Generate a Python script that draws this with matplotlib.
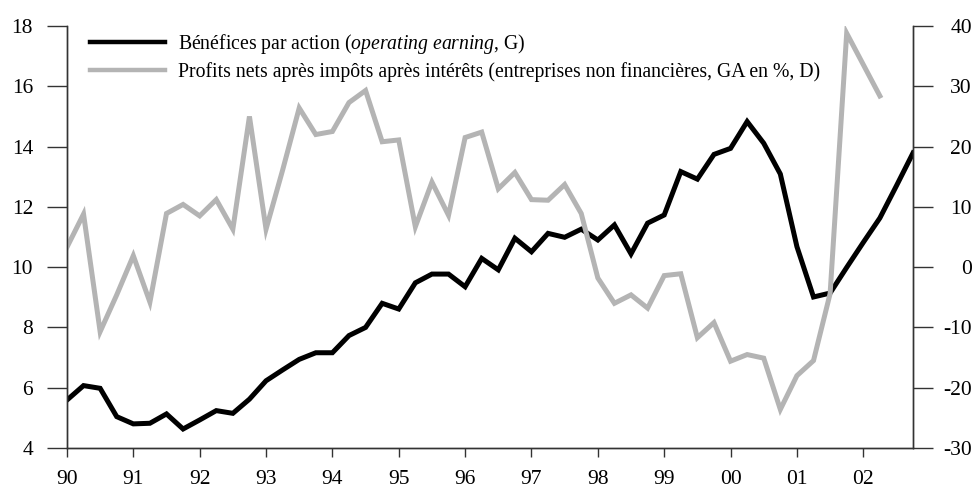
import numpy as np
import matplotlib
matplotlib.use("Agg")
import matplotlib.pyplot as plt

# quarterly data, 1990Q1 onwards
eps = [5.59, 6.07, 5.98, 5.04,
       4.80, 4.82, 5.13, 4.63,
       4.93, 5.24, 5.15, 5.62,
       6.23, 6.59, 6.94, 7.16,
       7.16, 7.73, 8.00, 8.80,
       8.61, 9.48, 9.77, 9.77,
       9.35, 10.29, 9.91, 10.96,
       10.51, 11.12, 10.99, 11.26,
       10.90, 11.40, 10.44, 11.46,
       11.73, 13.17, 12.92, 13.74,
       13.94, 14.83, 14.11, 13.09,
       10.68, 9.01, 9.14, 9.99,
       10.82, 11.63, 12.70, 13.79]

profits = [3.3, 8.8, -10.7, -4.6,
           1.9, -5.8, 8.9, 10.4,
           8.5, 11.2, 6.3, 25.0,
           6.3, 16.1, 26.4, 22.0,
           22.5, 27.3, 29.3, 20.8,
           21.1, 6.7, 14.1, 8.6,
           21.5, 22.4, 13.0, 15.7,
           11.2, 11.1, 13.7, 8.9,
           -1.8, -6.0, -4.6, -6.8,
           -1.4, -1.1, -11.7, -9.2,
           -15.6, -14.5, -15.1, -23.6,
           -18.0, -15.5, -4.4, 38.8,
           33.6, 28.4]

years = np.arange(1990, 2003)
year_labels = ["90", "91", "92", "93", "94", "95", "96", "97", "98", "99", "00", "01", "02"]
left_ticks = [4, 6, 8, 10, 12, 14, 16, 18]
right_ticks = [-30, -20, -10, 0, 10, 20, 30, 40]

label_eps = r"Bénéfices par action ($\it{operating\ earning}$, G)"
label_profits = "Profits nets après impôts après intérêts (entreprises non financières, GA en %, D)"

t_eps = 1990 + np.arange(len(eps)) / 4
t_profits = 1990 + np.arange(len(profits)) / 4

plt.rcParams['font.family'] = ['Liberation Serif', 'DejaVu Serif']
plt.rcParams['mathtext.fontset'] = 'custom'
plt.rcParams['mathtext.it'] = 'Liberation Serif:italic'
plt.rcParams['mathtext.rm'] = 'Liberation Serif'

fig = plt.figure(figsize=(9.76, 4.87), dpi=100)
ax = fig.add_axes([0.0686, 0.0801, 0.8669, 0.8665])
ax2 = ax.twinx()

gray = '#b4b4b4'
l1, = ax.plot(t_eps, eps, color='black', lw=3.6, solid_joinstyle='miter')
l2, = ax2.plot(t_profits, profits, color=gray, lw=3.6, solid_joinstyle='miter')

ax.set_xlim(1990, 2002.75)
ax.set_ylim(4, 18)
ax2.set_ylim(-30, 40)

ax.set_xticks(years)
ax.set_xticklabels(year_labels)
ax.set_yticks(left_ticks)
ax2.set_yticks(right_ticks)
ax2.set_yticklabels([str(v) for v in right_ticks], ha='right')

spine_col = '#333333'
for a in (ax, ax2):
    a.spines['top'].set_visible(False)
    for s in a.spines.values():
        s.set_color(spine_col)
        s.set_linewidth(1.0)

ax.tick_params(axis='x', direction='out', length=6.5, width=1, color=spine_col,
               labelsize=15.5, pad=9)
ax.tick_params(axis='y', direction='out', length=14.4, width=1, color=spine_col,
               labelsize=15.5, pad=10)
ax2.tick_params(axis='y', direction='out', length=14.4, width=1, color=spine_col,
                labelsize=15.5, pad=28)

leg = ax.legend([l1, l2], [label_eps, label_profits], loc='upper left',
                bbox_to_anchor=(0.027, 0.985), frameon=False, fontsize=14.2,
                handlelength=3.8, handletextpad=0.65, borderpad=0,
                borderaxespad=0, labelspacing=0.3)
for h in leg.get_lines():
    h.set_linewidth(3.2)

fig.savefig("out.png", dpi=100)
